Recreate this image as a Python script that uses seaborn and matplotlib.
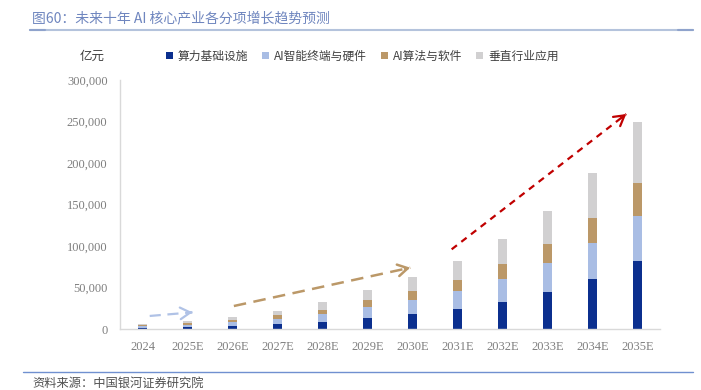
import matplotlib
matplotlib.use("Agg")
import matplotlib.pyplot as plt
import seaborn as sns
import numpy as np
import pandas as pd
from matplotlib.lines import Line2D
from matplotlib.patches import Patch

# ---- data (亿元) ----
years = ["2024", "2025E", "2026E", "2027E", "2028E", "2029E", "2030E",
         "2031E", "2032E", "2033E", "2034E", "2035E"]
infra = [1700, 2700, 3900, 5800, 8800, 13200, 17700, 24100, 32500, 44600, 60200, 82000]
hardware = [1500, 2300, 4000, 6200, 8900, 13300, 17200, 21700, 27700, 34500, 43400, 54000]
software = [1300, 1700, 2900, 4500, 5600, 8400, 10900, 13600, 18100, 23300, 30500, 40200]
vertical = [1900, 2500, 3700, 5200, 9200, 12100, 16500, 22100, 29700, 40100, 54200, 73000]
series_names = ["算力基础设施", "AI智能终端与硬件", "AI算法与软件", "垂直行业应用"]
yticks = [0, 50000, 100000, 150000, 200000, 250000, 300000]

# trend arrows (x in category index, y in 亿元)
arrow_blue = [(0.16, 15700), (1.11, 20100)]
arrow_tan = [(2.03, 27700), (5.95, 73900)]
arrow_red = [(6.87, 96000), (10.75, 259000)]

colors = ["#0b2f8e", "#a9bde4", "#bb9868", "#d1d0d1"]

sns.set_theme(style="white")
plt.rcParams['font.family'] = ['Noto Sans CJK SC', 'DejaVu Sans']

fig = plt.figure(figsize=(7.01, 3.90), dpi=100)
ax = fig.add_axes([120 / 701, 1 - 329 / 390, 540 / 701, 249 / 390])

df = pd.DataFrame({"year": years, "s0": infra, "s1": hardware, "s2": software, "s3": vertical})
cum = df[["s0", "s1", "s2", "s3"]].cumsum(axis=1)
for i in reversed(range(4)):
    sns.barplot(x=df["year"], y=cum.iloc[:, i], color=colors[i], width=0.22,
                ax=ax, linewidth=0, saturation=1, order=years)

ax.set_ylim(0, 300000)
ax.set_xlim(-0.5, 11.5)
ax.set_yticks(yticks)
ax.set_yticklabels([f"{v:,}" for v in yticks], family="Liberation Serif", fontsize=9, color="#7f7f7f")
ax.set_xticks(range(len(years)))
ax.set_xticklabels(years, family="Liberation Serif", fontsize=9, color="#7f7f7f")
ax.tick_params(axis="y", length=0, pad=9)
ax.tick_params(axis="x", length=0, pad=9)
ax.set_xlabel("")
ax.set_ylabel("")
for s in ["top", "right"]:
    ax.spines[s].set_visible(False)
for s in ["left", "bottom"]:
    ax.spines[s].set_color("#d9d9d9")
    ax.spines[s].set_linewidth(1)


def dashed_arrow(pts, color, lw, dashes):
    (x0, y0), (x1, y1) = pts
    ax.plot([x0, x1], [y0, y1], color=color, lw=lw, dashes=dashes, solid_capstyle="butt")
    ax.annotate("", xy=(x1, y1), xytext=(x0 + 0.97 * (x1 - x0), y0 + 0.97 * (y1 - y0)),
                arrowprops=dict(arrowstyle="->,head_length=0.6,head_width=0.35", color=color, lw=lw,
                                shrinkA=0, shrinkB=0))


dashed_arrow(arrow_blue, "#b0c2e6", 1.6, (5, 3))
dashed_arrow(arrow_tan, "#bb9868", 1.8, (5, 3))
dashed_arrow(arrow_red, "#c00000", 1.6, (3, 2.5))

# legend
handles = [Patch(facecolor=c, edgecolor="none") for c in colors]
fig.legend(handles, series_names, loc="center", bbox_to_anchor=(362 / 701, 1 - 56 / 390), ncol=4,
           frameon=False, fontsize=8.5, handlelength=0.6, handleheight=0.6, handletextpad=0.4,
           columnspacing=1.2, labelcolor="#404040")

fig.text(92 / 701, 1 - 56 / 390, "亿元", ha="center", va="center", fontsize=9, color="#404040")

# title & decorations
fig.text(32 / 701, 1 - 18 / 390, "图60：未来十年 AI 核心产业各分项增长趋势预测", ha="left", va="center",
         fontsize=10, color="#6f86bf")
fig.add_artist(Line2D([30 / 701, 693 / 701], [1 - 30 / 390, 1 - 30 / 390], color="#b4c3dc", lw=1.5))
fig.add_artist(Line2D([30 / 701, 45 / 701], [1 - 30 / 390, 1 - 30 / 390], color="#8fa3cc", lw=1.5))
fig.add_artist(Line2D([678 / 701, 693 / 701], [1 - 30 / 390, 1 - 30 / 390], color="#8fa3cc", lw=1.5))
fig.add_artist(Line2D([23 / 701, 693 / 701], [1 - 372 / 390, 1 - 372 / 390], color="#7090d0", lw=1))
fig.text(32 / 701, 1 - 383 / 390, "资料来源：中国银河证券研究院", ha="left", va="center",
         fontsize=8.8, color="#505050", style="italic")

fig.savefig("out.png", dpi=100)
